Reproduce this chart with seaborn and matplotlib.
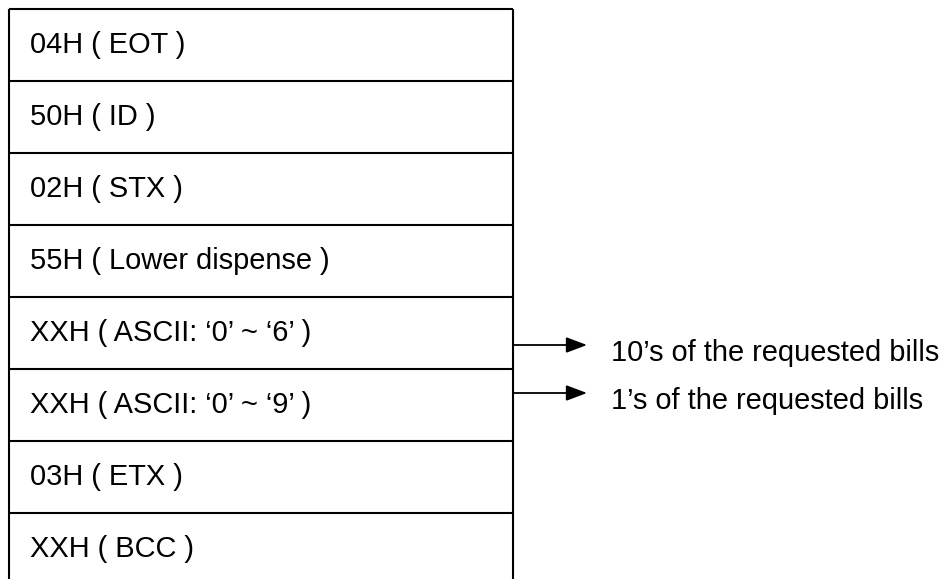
import matplotlib
matplotlib.use("Agg")
import matplotlib.pyplot as plt
import seaborn as sns

# frame fields, top to bottom
fields = [
    "04H ( EOT )",
    "50H ( ID )",
    "02H ( STX )",
    "55H ( Lower dispense )",
    "XXH ( ASCII: \u20180\u2019 ~ \u20186\u2019 )",
    "XXH ( ASCII: \u20180\u2019 ~ \u20189\u2019 )",
    "03H ( ETX )",
    "XXH ( BCC )",
]
# notes pointing out of the two count fields
note_rows = [4, 5]
notes = ["10\u2019s of the requested bills", "1\u2019s of the requested bills"]

sns.set_style("white")
plt.rcParams["font.family"] = ["Liberation Sans", "DejaVu Sans"]
plt.rcParams["text.color"] = "black"

W, H = 947, 579
fig = plt.figure(figsize=(W / 100, H / 100), dpi=100)
ax = fig.add_axes([0, 0, 1, 1])
ax.set_xlim(0, W)
ax.set_ylim(H, 0)
ax.axis("off")

left, right, top, row_h = 9, 513, 9, 72
lw = 1.5
fs = 20.9

# box: side walls run to the bottom edge, no bottom border
ax.vlines([left, right], top, H, colors="black", lw=lw)
for i, label in enumerate(fields):
    y0 = top + i * row_h
    ax.hlines(y0, left, right, colors="black", lw=lw)
    ax.text(left + 21, y0 + row_h / 2, label, fontsize=fs, va="center", ha="left")

# arrows to the notes, 24 px above / below the split between the two rows
for r, note in zip(note_rows, notes):
    ya = top + 5 * row_h + (r - 4.5) * 48
    ax.annotate("", xy=(587, ya), xytext=(right, ya),
                arrowprops=dict(arrowstyle="-|>,head_length=0.85,head_width=0.32",
                                mutation_scale=15, lw=1.3, color="black",
                                shrinkA=0, shrinkB=0))
    ax.text(611, ya + 8, note, fontsize=fs, va="center", ha="left")

fig.savefig("out.png", dpi=100)
